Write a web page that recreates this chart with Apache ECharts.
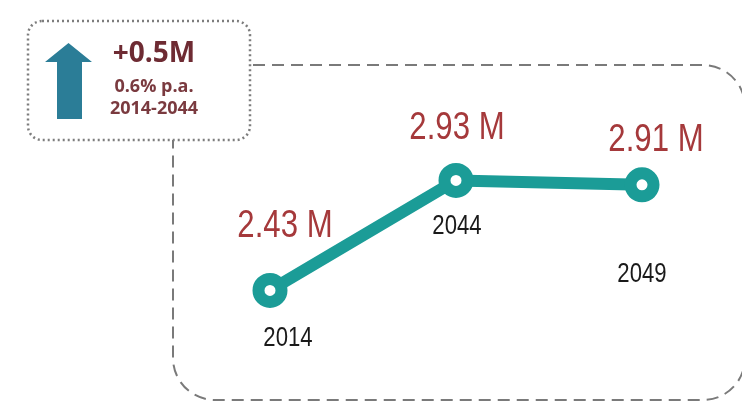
<!DOCTYPE html>
<html>
<head>
<meta charset="utf-8">
<style>
  html, body { margin: 0; padding: 0; background: #ffffff; }
  #chart { width: 742px; height: 403px; }
</style>
<script src="https://cdn.jsdelivr.net/npm/echarts@6/dist/echarts.min.js"></script>
</head>
<body>
<div id="chart"></div>
<script>
// ---- data ----
const years = ['2014', '2044', '2049'];
const populationM = [2.43, 2.93, 2.91];
const valueLabels = ['2.43 M', '2.93 M', '2.91 M'];
const summaryChange = '+0.5M';
const summaryRate = '0.6% p.a.';
const summaryPeriod = '2014-2044';

// ---- styling (label offsets relative to each point) ----
const valueOffsets = [[15, -64], [1, -52], [14, -44]];
const yearOffsets = [[18, 48], [1, 46], [0, 90]];

const teal = '#1b9c97';
const boxFont = "'Open Sans', 'Liberation Sans', sans-serif";

const chart = echarts.init(document.getElementById('chart'), null, { renderer: 'canvas' });

const baseGraphics = [
  {
    type: 'rect',
    z: 1,
    shape: { x: 173, y: 65, width: 572, height: 335, r: 42 },
    style: { fill: 'none', stroke: '#7a7a7a', lineWidth: 2, lineDash: [12, 7] }
  },
  {
    type: 'rect',
    z: 3,
    shape: { x: 28, y: 21, width: 222, height: 119, r: 14 },
    style: { fill: '#ffffff', stroke: '#7d7d7d', lineWidth: 2.5, lineDash: [2, 3] }
  },
  {
    type: 'polygon',
    z: 4,
    shape: {
      points: [[68.5, 43], [92, 62], [82, 62], [82, 119], [57, 119], [57, 62], [45, 62]]
    },
    style: { fill: '#2b7d97' }
  },
  {
    type: 'text', z: 4, x: 154, y: 54,
    style: {
      text: summaryChange, fill: '#6e2b33',
      font: 'bold 28px ' + boxFont, align: 'center', verticalAlign: 'middle'
    }
  },
  {
    type: 'text', z: 4, x: 154, y: 87,
    style: {
      text: summaryRate, fill: '#7a3a3f',
      font: 'bold 18px ' + boxFont, align: 'center', verticalAlign: 'middle'
    }
  },
  {
    type: 'text', z: 4, x: 154, y: 109,
    style: {
      text: summaryPeriod, fill: '#7a3a3f',
      font: 'bold 18px ' + boxFont, align: 'center', verticalAlign: 'middle'
    }
  }
];

const option = {
  backgroundColor: '#ffffff',
  animation: false,
  grid: { left: 270, right: 100, top: 165, height: 220 },
  xAxis: { type: 'category', data: years, boundaryGap: false, show: false },
  yAxis: { type: 'value', min: 2.0, max: 3.0, show: false },
  graphic: { elements: baseGraphics },
  series: [
    {
      type: 'line',
      data: populationM,
      lineStyle: { color: teal, width: 12 },
      symbol: 'circle',
      symbolSize: 23,
      itemStyle: { color: '#ffffff', borderColor: teal, borderWidth: 12 },
      z: 5
    }
  ]
};

chart.setOption(option);

// Labels placed through the chart's own scales (narrowed text like the original)
const labelGraphics = [];
populationM.forEach((v, i) => {
  const p = chart.convertToPixel({ seriesIndex: 0 }, [i, v]);
  labelGraphics.push({
    type: 'text', z: 10,
    x: p[0] + valueOffsets[i][0], y: p[1] + valueOffsets[i][1],
    scaleX: 0.82,
    style: {
      text: valueLabels[i], fill: '#a5393b',
      font: "38px 'Liberation Sans', Arial, sans-serif",
      align: 'center', verticalAlign: 'middle'
    }
  });
  labelGraphics.push({
    type: 'text', z: 10,
    x: p[0] + yearOffsets[i][0], y: p[1] + yearOffsets[i][1],
    scaleX: 0.82,
    style: {
      text: years[i], fill: '#1a1a1a',
      font: "27px 'Liberation Sans', Arial, sans-serif",
      align: 'center', verticalAlign: 'middle'
    }
  });
});

chart.setOption({ graphic: { elements: baseGraphics.concat(labelGraphics) } }, { replaceMerge: ['graphic'] });
</script>
</body>
</html>
